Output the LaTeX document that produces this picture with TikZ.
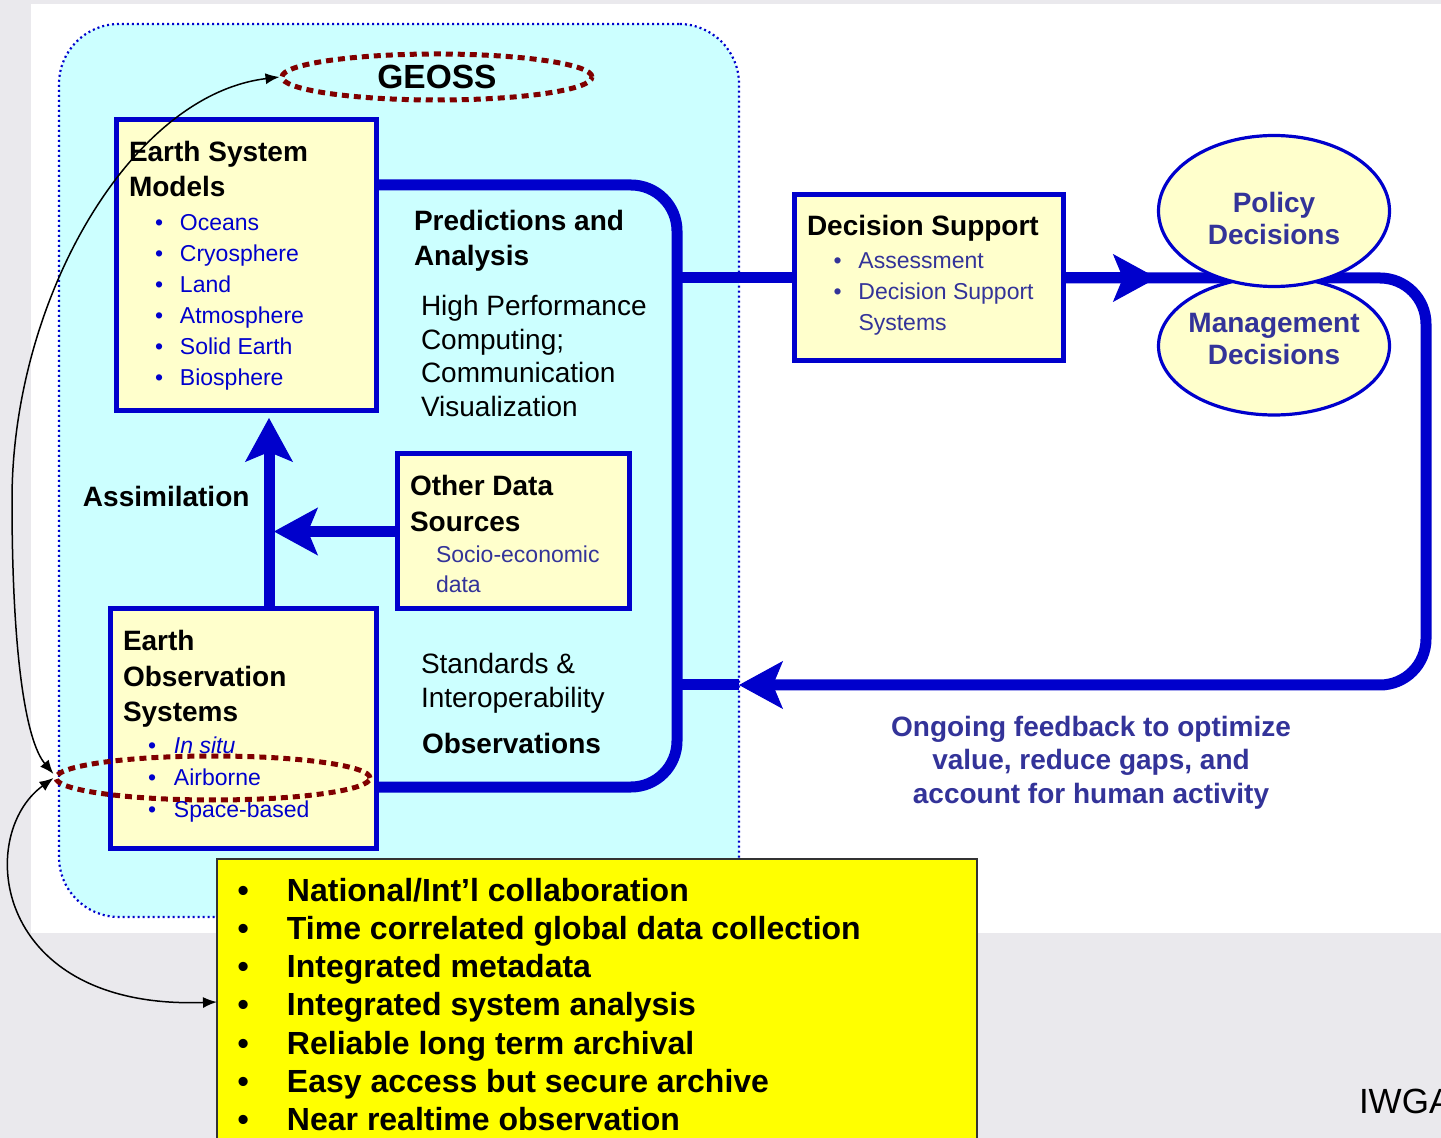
\documentclass[tikz,border=0pt]{standalone}
\usepackage{fontspec}
\setmainfont{Liberation Sans}
\usetikzlibrary{arrows.meta, positioning, shapes.geometric, calc}
\definecolor{geoblue}{HTML}{0000CC}
\definecolor{geonavy}{HTML}{333399}
\definecolor{geocream}{HTML}{FFFFCC}
\definecolor{geocyan}{HTML}{CCFFFF}
\definecolor{geored}{HTML}{800000}
\definecolor{geogrey}{HTML}{EAE9ED}
\definecolor{geoyellow}{HTML}{FFFF00}
\pgfdeclarelayer{back}
\pgfdeclarelayer{pipes}
\pgfsetlayers{back,pipes,main}
\newcommand{\fhd}{\fontsize{14}{17.5}\selectfont\bfseries}
\newcommand{\fbd}{\fontsize{14}{16.75}\selectfont}
\newcommand{\fli}{\fontsize{11.5}{15.5}\selectfont}
\newcommand{\fel}{\fontsize{14}{16}\selectfont\bfseries}
\newcommand{\fno}{\fontsize{16}{19.15}\selectfont\bfseries}
\newcommand{\fge}{\fontsize{16.75}{20}\selectfont\bfseries}
\newcommand{\itm}[2][12.5pt]{\makebox[#1][l]{\textbullet}#2}
\newcommand{\txtstack}[1]{\begin{tabular}[t]{@{}l@{}}#1\end{tabular}}
\newcommand{\ctrstack}[1]{\begin{tabular}[t]{@{}c@{}}#1\end{tabular}}
\tikzset{
  >={Stealth[length=22pt, width=24pt, inset=5pt, line width=0.5pt]},
  panel/.style={rectangle, draw=geoblue, line width=2.5pt, fill=geocream,
                inner sep=0pt, outer sep=0pt, anchor=north west},
  sysframe/.style={rectangle, rounded corners=30pt, draw=geoblue, line width=1.1pt,
                   dash pattern=on 1pt off 1.5pt, fill=geocyan, inner sep=0pt,
                   outer sep=0pt, anchor=north west},
  txt/.style={anchor=base west, inner sep=0pt, outer sep=0pt},
  pipe/.style={draw=geoblue, line width=5.5pt, rounded corners=23pt},
  flowp/.style={pipe, ->},
  ring/.style={ellipse, draw=geored, line width=2.5pt, dash pattern=on 3.5pt off 2.5pt,
               inner sep=1pt},
  choice/.style={ellipse, draw=geoblue, line width=1.6pt, fill=geocream,
                 inner xsep=-4pt, inner ysep=0pt, align=center, font=\fel, text=geonavy},
  notebox/.style={rectangle, draw=black!80, line width=0.8pt, fill=geoyellow,
                  inner sep=0pt, outer sep=0pt, anchor=north west},
  link/.style={{Latex[length=7pt, width=5.5pt]}-{Latex[length=7pt, width=5.5pt]},
               line width=0.75pt, draw=black},
}

\begin{document}
\begin{tikzpicture}[x=0.5pt, y=-0.5pt]
  \useasboundingbox (0,0) rectangle (1441,1138);
  \begin{pgfonlayer}{back}
    \fill[geogrey] (0,0) rectangle (1441,1138);
    \fill[white] (31,4) rectangle (1441,933);
    \node[sysframe, minimum width=340pt, minimum height=446.5pt] (sys) at (59,24) {};
  \end{pgfonlayer}
  \coordinate (hubtr) at (677,185);
  \coordinate (hubbr) at (677,787);
  \coordinate (fbend) at (1426,685);

  \node[ring, minimum width=155pt, minimum height=23pt, font=\fge] (geoss) at (437,77) {GEOSS};

  \node[panel, minimum width=130pt, minimum height=145.5pt] (esm) at (116,120) {};
  \node[txt, font=\fhd] (esmttl) at ([xshift=6.5pt, yshift=-21pt]esm.north west) {\txtstack{Earth System\\Models}};
  \node[txt, font=\fli, text=geoblue] (esmlist) at ([xshift=19.5pt, yshift=-55.5pt]esm.north west)
    {\txtstack{\itm{Oceans}\\\itm{Cryosphere}\\\itm{Land}\\\itm{Atmosphere}\\\itm{Solid Earth}\\\itm{Biosphere}}};

  \node[txt, font=\fhd] (pred) at (414,231) {\txtstack{Predictions and\\Analysis}};
  \node[txt, font=\fbd] (hpc) at (421,316) {\txtstack{High Performance\\Computing;\\Communication\\Visualization}};
  \node[txt, font=\fhd] (assim) at (83,507) {Assimilation};

  \node[panel, minimum width=116pt, minimum height=77.5pt] (ods) at (397,454) {};
  \node[txt, font=\fontsize{14}{18}\selectfont\bfseries] (odsttl) at ([xshift=6.5pt, yshift=-21pt]ods.north west) {\txtstack{Other Data\\Sources}};
  \node[txt, font=\fontsize{11.5}{15}\selectfont, text=geonavy] (odstxt) at ([xshift=19.5pt, yshift=-54.5pt]ods.north west)
    {\txtstack{Socio-economic\\data}};

  \node[panel, minimum width=133pt, minimum height=119.5pt] (eos) at (110,609) {};
  \node[txt, font=\fontsize{14}{17.75}\selectfont\bfseries] (eosttl) at ([xshift=6.5pt, yshift=-21pt]eos.north west) {\txtstack{Earth\\Observation\\Systems}};
  \node[txt, font=\fontsize{11.5}{16}\selectfont, text=geoblue] (eoslist) at ([xshift=19pt, yshift=-72.5pt]eos.north west)
    {\txtstack{\itm[13pt]{\textit{In situ}}\\\itm[13pt]{Airborne}\\\itm[13pt]{Space-based}}};
  \node[ring, minimum width=157pt, minimum height=22pt] (airb) at (213,778) {};

  \node[txt, font=\fbd] (std) at (421,674) {\txtstack{Standards \&\\Interoperability}};
  \node[txt, font=\fhd] (obs) at (422,754) {Observations};

  \node[panel, minimum width=134.5pt, minimum height=83pt] (ds) at (794,195) {};
  \node[txt, font=\fontsize{14}{17}\selectfont\bfseries] (dsttl) at ([xshift=6.5pt, yshift=-20.5pt]ds.north west) {Decision Support};
  \node[txt, font=\fli, text=geonavy] (dslist) at ([xshift=19.75pt, yshift=-37pt]ds.north west)
    {\txtstack{\itm{Assessment}\\\itm{Decision Support}\\\hspace{12.5pt}Systems}};

  \node[choice, minimum width=115.5pt, minimum height=69pt] (mgmt) at (1274,346)
    {Management\\Decisions\rule[-7pt]{0pt}{7pt}};
  \node[choice, minimum width=115.5pt, minimum height=75.5pt] (pol) at (1274,211)
    {\rule{0pt}{18pt}Policy\\Decisions};

  \node[anchor=base, inner sep=0pt, font=\fontsize{14}{16.5}\selectfont\bfseries, text=geonavy] (fb) at (1091,737)
    {\ctrstack{Ongoing feedback to optimize\\value, reduce gaps, and\\account for human activity}};

  \node[notebox, minimum width=380pt, minimum height=143pt] (note) at (217,859) {};
  \node[txt, font=\fno] (notes) at ([xshift=10.25pt, yshift=-21pt]note.north west)
    {\txtstack{\itm[24.75pt]{National/Int’l collaboration}\\
               \itm[24.75pt]{Time correlated global data collection}\\
               \itm[24.75pt]{Integrated metadata}\\
               \itm[24.75pt]{Integrated system analysis}\\
               \itm[24.75pt]{Reliable long term archival}\\
               \itm[24.75pt]{Easy access but secure archive}\\
               \itm[24.75pt]{Near realtime observation}}};

  \node[txt, font=\fontsize{17.5}{20}\selectfont] (iwga) at (1359,1113) {IWGA};

  \begin{pgfonlayer}{pipes}
    \draw[pipe] (esm.east |- hubtr) -- (hubtr) -- (hubbr) -- (eos.east |- hubbr);
    \draw[pipe] (ds.west -| hubtr) -- (ds.west);
    \draw[pipe] (fbend -| hubtr) -- (fbend -| sys.east);
    \draw[flowp] (ds.east) -| (fbend) -- (fbend -| sys.east);
    \draw[flowp] (ds.east) -- (ds.east -| pol.west);
    \draw[flowp] ([xshift=79.5pt]eos.north west) -- ([xshift=76.5pt, yshift=-3.5pt]esm.south west);
    \draw[flowp] (ods.west) -- ([xshift=82pt]ods.west -| eos.north west);
  \end{pgfonlayer}

  \draw[link] (geoss.west) .. controls (130,95) and (12,300) .. (12,500)
              .. controls (12,650) and (25,740) .. ([yshift=2pt]airb.west);
  \draw[link] (airb.west) .. controls (-25,835) and (-8,1010) .. (note.west);
\end{tikzpicture}
\end{document}
